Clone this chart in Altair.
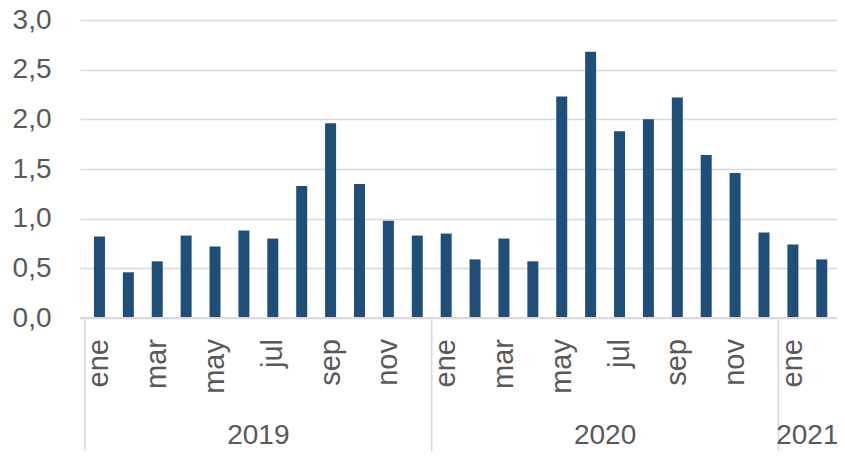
import altair as alt
import pandas as pd

years = ["2019"] * 12 + ["2020"] * 12 + ["2021"] * 2
months = ["ene", "feb", "mar", "abr", "may", "jun", "jul", "ago", "sep", "oct", "nov", "dic"] * 2 + ["ene", "feb"]
values = [0.82, 0.46, 0.57, 0.83, 0.72, 0.88, 0.80, 1.33, 1.96, 1.35, 0.98, 0.83,
          0.85, 0.59, 0.80, 0.57, 2.23, 2.68, 1.88, 2.00, 2.22, 1.64, 1.46, 0.86,
          0.74, 0.59]
y_ticks = [0.0, 0.5, 1.0, 1.5, 2.0, 2.5, 3.0]

df = pd.DataFrame({
    "idx": list(range(len(values))),
    "year": years,
    "month": months,
    "value": values,
})
df["show"] = [i % 12 % 2 == 0 if y != "2021" else (i - 24) % 2 == 0 for i, y in zip(df["idx"], df["year"])]

W, H = 757, 298
FONT = "Liberation Sans"
GREY = "#595959"
LINE = "#d9d9d9"
FS = 28
STEP = 29.28  # pixel spacing between bars in the reference; the right edge is cropped

xscale = alt.Scale(domain=[-0.5, -0.5 + W / STEP], nice=False, zero=False)
xenc = alt.X("idx:Q", scale=xscale, axis=None)

base = alt.Chart(df)

bars = base.mark_bar(size=11, color="#1f4e79").encode(
    x=xenc,
    y=alt.Y("value:Q",
            scale=alt.Scale(domain=[0, 3], nice=False),
            axis=alt.Axis(values=y_ticks, title=None, domain=False, ticks=False,
                          labelExpr="replace(format(datum.value, '.1f'), '.', ',')",
                          labelFont=FONT, labelFontSize=FS, labelColor=GREY,
                          labelPadding=29, grid=True, gridColor=LINE, gridWidth=1.5)),
)

axis_line = base.mark_rule(color=LINE, strokeWidth=1.5).encode(
    x=alt.value(0), x2=alt.value(W), y=alt.value(H)
)

month_text = base.transform_filter("datum.show").mark_text(
    angle=270, align="right", baseline="middle", font=FONT, fontSize=FS + 1, color=GREY
).encode(
    x=xenc, y=alt.value(H + 21), text="month:N"
)

year_text = base.transform_aggregate(
    center="mean(idx)", groupby=["year"]
).mark_text(baseline="middle", align="center", font=FONT, fontSize=FS, color=GREY).encode(
    x=alt.X("center:Q", scale=xscale, axis=None), y=alt.value(H + 118), text="year:N"
)

separators = base.transform_aggregate(
    first="min(idx)", groupby=["year"]
).transform_calculate(edge="datum.first - 0.5").mark_rule(color=LINE, strokeWidth=1.5).encode(
    x=alt.X("edge:Q", scale=xscale, axis=None), y=alt.value(H), y2=alt.value(H + 133)
)

chart = alt.layer(bars, axis_line, separators, month_text, year_text).properties(
    width=W, height=H,
    autosize=alt.AutoSizeParams(type="none"),
    padding={"left": 72, "top": 12, "right": 0, "bottom": 133},
).configure_view(stroke=None)

chart.save("out.html", embed_options={"renderer": "svg", "actions": False})
